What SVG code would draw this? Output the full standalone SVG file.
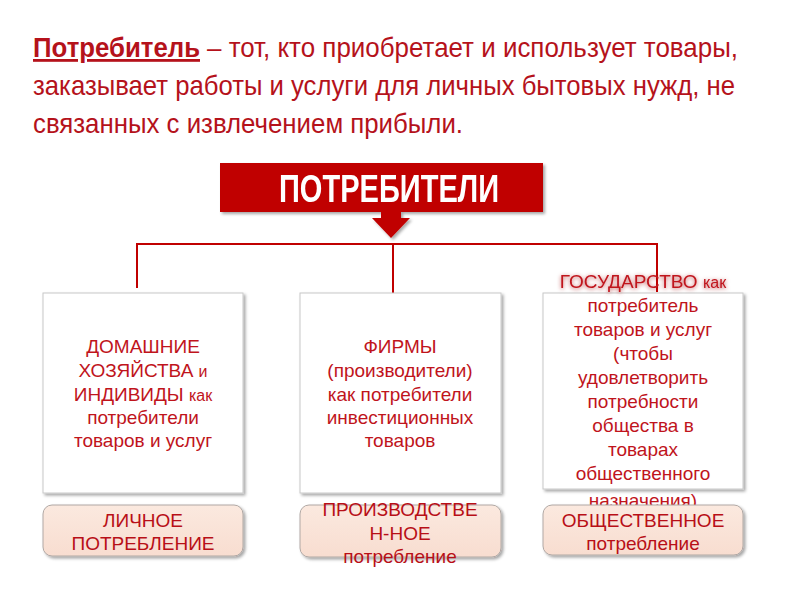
<svg xmlns="http://www.w3.org/2000/svg" width="800" height="600" viewBox="0 0 800 600">
<defs>
<filter id="sh" x="-10%" y="-10%" width="130%" height="130%">
<feDropShadow dx="2" dy="2" stdDeviation="1.5" flood-color="#000" flood-opacity="0.35"/>
</filter>
<filter id="glow" x="-10%" y="-30%" width="120%" height="160%">
<feGaussianBlur in="SourceAlpha" stdDeviation="2"/>
<feOffset dx="0" dy="1" result="b"/>
<feFlood flood-color="#a00000" flood-opacity="0.7"/>
<feComposite in2="b" operator="in"/>
<feMerge><feMergeNode/><feMergeNode in="SourceGraphic"/></feMerge>
</filter>
<linearGradient id="peach" x1="0" y1="0" x2="0" y2="1">
<stop offset="0" stop-color="#fbe9df"/>
<stop offset="1" stop-color="#f8ddd0"/>
</linearGradient>
</defs>
<style>
.title{font-family:"Liberation Sans",Arial,sans-serif;font-size:28px;fill:#b5121b}
.bt{font-family:"Liberation Sans",Arial,sans-serif;font-size:19px;fill:#c0141c;text-anchor:middle}
.sm{font-size:16px}
.lbl{font-family:"Liberation Sans",Arial,sans-serif;font-size:19px;fill:#b80f17;text-anchor:middle}
.box{fill:#fff;stroke:#c8c8c8;stroke-width:1}
.pl{fill:url(#peach);stroke:#b0a8a4;stroke-width:1}
.con{fill:none;stroke:#c00000;stroke-width:2}
</style>
<rect width="800" height="600" fill="#fff"/>

<g id="title">
<text class="title" x="33" y="57" font-weight="bold" text-decoration="underline" textLength="167" lengthAdjust="spacingAndGlyphs">Потребитель</text>
<text class="title" x="207" y="57" textLength="531" lengthAdjust="spacingAndGlyphs">– тот, кто приобретает и использует товары,</text>
<text class="title" x="33" y="95" textLength="702" lengthAdjust="spacingAndGlyphs">заказывает работы и услуги для личных бытовых нужд, не</text>
<text class="title" x="33" y="133" textLength="430" lengthAdjust="spacingAndGlyphs">связанных с извлечением прибыли.</text>
</g>

<g id="header" filter="url(#sh)">
<rect x="220" y="163" width="323" height="49" fill="#c00000"/>
<polygon points="381,211 401,211 401,218 410,218 391,238 372,218 381,218" fill="#c00000"/>
<text x="389" y="202" font-family="'Liberation Sans',Arial,sans-serif" font-weight="bold" font-size="38" fill="#fff" text-anchor="middle" textLength="220" lengthAdjust="spacingAndGlyphs">ПОТРЕБИТЕЛИ</text>
</g>

<g id="connectors">
<path class="con" d="M137,288 V244 H657 V292"/>
<path class="con" d="M393,244 V293"/>
</g>

<g id="node-households">
<rect class="box" x="43" y="293" width="200" height="200" filter="url(#sh)"/>
<text class="bt" x="143" y="353">ДОМАШНИЕ</text>
<text class="bt" x="143" y="377">ХОЗЯЙСТВА <tspan class="sm">и</tspan></text>
<text class="bt" x="143" y="401">ИНДИВИДЫ <tspan class="sm">как</tspan></text>
<text class="bt" x="143" y="424" font-size="18">потребители</text>
<text class="bt" x="143" y="447" font-size="18">товаров и услуг</text>
</g>

<g id="node-firms">
<rect class="box" x="300" y="293" width="201" height="200" filter="url(#sh)"/>
<text class="bt" x="400" y="353">ФИРМЫ</text>
<text class="bt" x="400" y="377" font-size="18">(производители)</text>
<text class="bt" x="400" y="401" font-size="18">как потребители</text>
<text class="bt" x="400" y="424" font-size="18">инвестиционных</text>
<text class="bt" x="400" y="447" font-size="18">товаров</text>
</g>

<g id="node-state">
<rect class="box" x="543" y="293" width="200" height="196" filter="url(#sh)"/>
<text class="bt" x="643" y="288" filter="url(#glow)">ГОСУДАРСТВО <tspan class="sm">как</tspan></text>
<text class="bt" x="643" y="312" font-size="18">потребитель</text>
<text class="bt" x="643" y="336" font-size="18">товаров и услуг</text>
<text class="bt" x="643" y="360" font-size="18">(чтобы</text>
<text class="bt" x="643" y="384" font-size="18">удовлетворить</text>
<text class="bt" x="643" y="408" font-size="18">потребности</text>
<text class="bt" x="643" y="432" font-size="18">общества в</text>
<text class="bt" x="643" y="456" font-size="18">товарах</text>
<text class="bt" x="643" y="480" font-size="18">общественного</text>
<text class="bt" x="643" y="507" font-size="18">назначения)</text>
</g>

<g id="label-personal">
<rect class="pl" x="43" y="505" width="200" height="51" rx="9" filter="url(#sh)"/>
<text class="lbl" x="143" y="527">ЛИЧНОЕ</text>
<text class="lbl" x="143" y="550">ПОТРЕБЛЕНИЕ</text>
</g>

<g id="label-production">
<rect class="pl" x="300" y="505" width="201" height="52" rx="9" filter="url(#sh)"/>
<text class="lbl" x="400" y="516">ПРОИЗВОДСТВЕ</text>
<text class="lbl" x="400" y="540">Н-НОЕ</text>
<text class="lbl" x="400" y="563" font-size="17">потребление</text>
</g>

<g id="label-public">
<rect class="pl" x="543" y="505" width="200" height="50" rx="9" filter="url(#sh)"/>
<text class="lbl" x="643" y="527">ОБЩЕСТВЕННОЕ</text>
<text class="lbl" x="643" y="550" font-size="17">потребление</text>
</g>
</svg>
